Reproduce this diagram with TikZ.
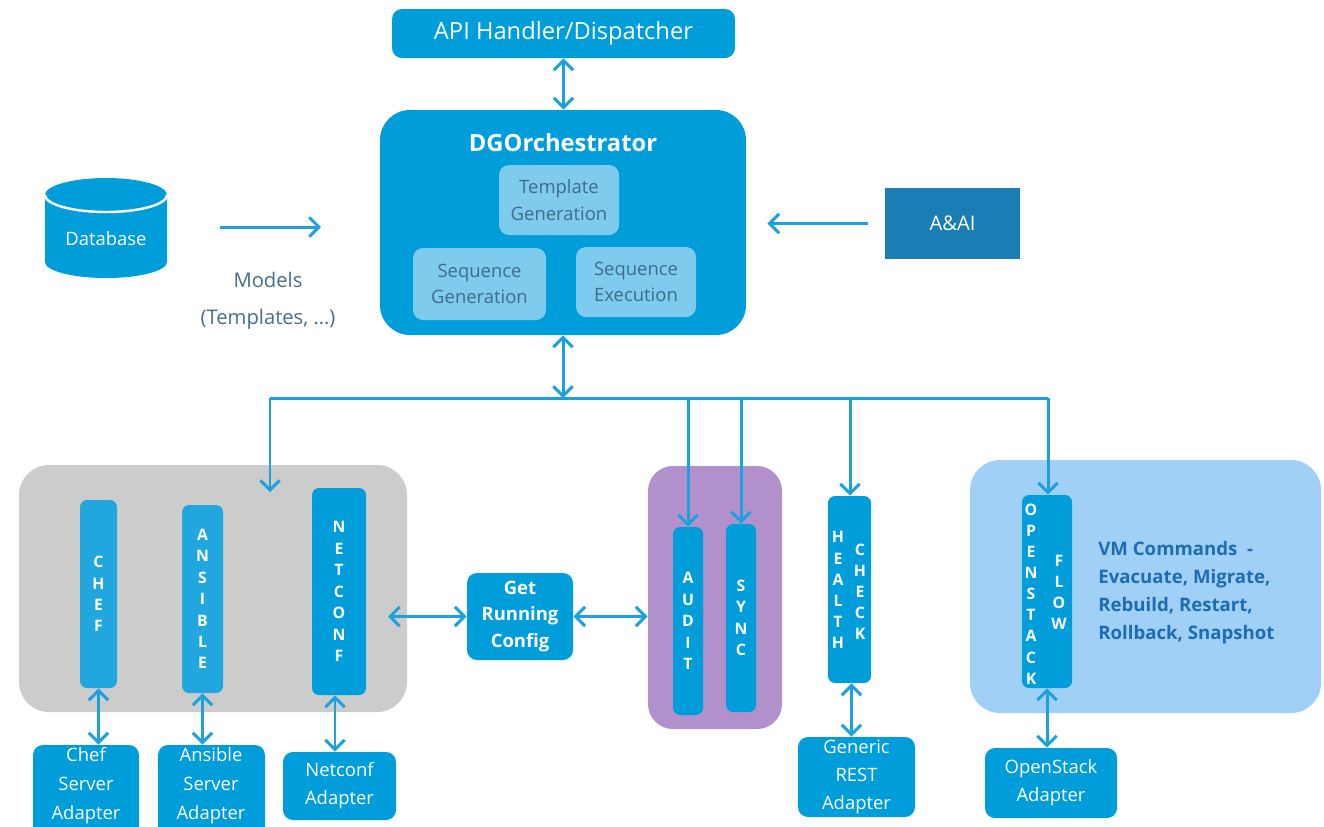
\documentclass[tikz,border=0pt]{standalone}
\usepackage{fontspec}
\setmainfont{Open Sans}
\usetikzlibrary{arrows.meta}
\definecolor{mblue}{RGB}{0,157,219}
\definecolor{barlite}{RGB}{34,166,222}
\definecolor{lightbox}{RGB}{126,203,238}
\definecolor{aaicol}{RGB}{26,126,180}
\definecolor{grayc}{RGB}{204,204,204}
\definecolor{purplec}{RGB}{178,144,204}
\definecolor{skyb}{RGB}{160,208,245}
\definecolor{vmtext}{RGB}{30,108,180}
\definecolor{innertext}{RGB}{62,108,140}
\definecolor{modelst}{RGB}{70,110,140}
\definecolor{arrowc}{RGB}{27,161,221}
\tikzset{
  rect/.style n args={4}{at={({(#1+#3)/2},{(#2+#4)/2})}, minimum width={(#3-#1)*0.02cm}, minimum height={(#4-#2)*0.02cm}},
  bbox/.style={fill=mblue, rounded corners=0.2cm, inner sep=0pt, text=white, align=center},
  ibox/.style={fill=lightbox, rounded corners=0.2cm, inner sep=0pt, text=innertext, align=center,
    font={\fontsize{10.5}{15}\selectfont}},
  adbox/.style={bbox, font={\fontsize{10.5}{16}\selectfont}},
  bar/.style={fill=mblue, rounded corners=0.14cm, inner sep=0pt, text=white, align=center,
    font={\fontsize{9}{12.2}\selectfont\bfseries}},
  vletters/.style={text=white, align=center, inner sep=0pt, font={\fontsize{9}{12}\selectfont\bfseries}},
  cont/.style={rounded corners=0.6cm, inner sep=0pt},
  ln/.style={draw=arrowc, line width=1.7pt},
  arr/.style={ln, -{Straight Barb[length=5.5pt,width=11pt]}},
  dbl/.style={ln, {Straight Barb[length=5.5pt,width=11pt]}-{Straight Barb[length=5.5pt,width=11pt]}}
}
\begin{document}
\begin{tikzpicture}[x=0.02cm,y=-0.02cm]
\useasboundingbox (0,0) rectangle (1324,826);
\clip (0,0) rectangle (1324,826);
% top
\node[bbox, font={\fontsize{13.5}{16}\selectfont}, rect={392}{9}{735}{58}] (api) {API Handler/Dispatcher};
\node[fill=mblue, cont, rect={380}{110}{746}{335}] (dgo) {};
\node[text=white, font={\fontsize{13.5}{16}\selectfont\bfseries}] (dgot) at (563,143) {DGOrchestrator};
\node[ibox, rect={499}{165}{619}{235}] (tg) {Template\\Generation};
\node[ibox, rect={413}{248}{546}{320}] (sg) {Sequence\\Generation};
\node[ibox, rect={576}{247}{696}{317}] (se) {Sequence\\Execution};
% database cylinder
\fill[mblue] (45,195) -- (45,262) arc[start angle=180, end angle=0, x radius=61, y radius=16]
  -- (167,195) arc[start angle=0, end angle=-180, x radius=61, y radius=17] -- cycle;
\draw[white, line width=1.4pt] (45,195) arc[start angle=180, end angle=0, x radius=61, y radius=17];
\node[text=white, font={\fontsize{10.5}{12}\selectfont}] (db) at (106,239) {Database};
\node[text=modelst, align=center, font={\fontsize{11.5}{21}\selectfont}] (models) at (268,301) {Models\\(Templates, \dots)};
\node[fill=aaicol, inner sep=0pt, text=white, font={\fontsize{11.5}{14}\selectfont}, rect={885}{188}{1020}{259}] (aai) {A\&AI};
\coordinate (dbA) at (220,227);
\coordinate (dbB) at (321,227);
\draw[arr] (dbA) -- (dbB);
\draw[arr, shorten <=0.34cm, shorten >=0.42cm] (aai.west) -- (aai.west -| dgo.east);
\draw[dbl] (api.south) -- (api.south |- dgo.north);
% bus
\coordinate (b0) at (563,398);
\coordinate (b1) at (270,398);
\coordinate (bA) at (688,398);
\coordinate (bS) at (741,398);
\coordinate (bH) at (850,398);
\coordinate (bO) at (1048,398);
\draw[dbl] (dgo.south -| b0) -- (b0);
\draw[ln] (b1) -- (bO);
% containers
\node[fill=grayc, cont, rect={19}{465}{407}{712}] (gray) {};
\node[fill=purplec, cont, rounded corners=0.5cm, rect={648}{466}{782}{729}] (purp) {};
\node[fill=skyb, cont, rect={970}{460}{1321}{713}] (sky) {};
% bars
\node[bar, fill=barlite, rect={80}{500}{117}{688}] (chef) {C\\H\\E\\F};
\node[bar, fill=barlite, rect={182}{505}{223}{693}] (ans) {A\\N\\S\\I\\B\\L\\E};
\node[bar, rect={312}{488}{366}{695}] (netc) {N\\E\\T\\C\\O\\N\\F};
\node[bar, rect={673}{527}{703}{715}] (audit) {A\\U\\D\\I\\T};
\node[bar, rect={726}{524}{756}{712}] (sync) {S\\Y\\N\\C};
\node[bar, rect={828}{496}{871}{683}] (hc) {};
\node[vletters] (hct1) at (838,590) {H\\E\\A\\L\\T\\H};
\node[vletters] (hct2) at (860,592) {C\\H\\E\\C\\K};
\node[bar, rect={1022}{495}{1072}{688}] (osf) {};
\node[vletters] (osft1) at (1031,594) {O\\P\\E\\N\\S\\T\\A\\C\\K};
\node[vletters] (osft2) at (1059,592) {F\\L\\O\\W};
\node[text=vmtext, anchor=north west, align=left, inner sep=0pt, font={\fontsize{10.6}{16}\selectfont\bfseries}] (vm) at (1098,541)
  {VM Commands\ \ -\\Evacuate, Migrate,\\Rebuild,\ Restart,\\Rollback,\ Snapshot};
\node[bbox, font={\fontsize{10.5}{15}\selectfont\bfseries}, rect={467}{573}{573}{660}] (grc) {Get\\Running\\Config};
% adapters
\node[adbox, rect={33}{745}{139}{850}] (chefad) {};
\node[text=white, align=center, font={\fontsize{10.5}{16.5}\selectfont}] (chefadt) at (86,786) {Chef\\Server\\Adapter};
\node[adbox, rect={158}{745}{265}{850}] (ansad) {};
\node[text=white, align=center, font={\fontsize{10.5}{16.5}\selectfont}] (ansadt) at (211,786) {Ansible\\Server\\Adapter};
\node[adbox, rect={283}{752}{396}{820}] (netad) {Netconf\\Adapter};
\node[adbox, rect={798}{737}{915}{817}] (restad) {Generic\\REST\\Adapter};
\node[adbox, rect={985}{748}{1117}{818}] (osad) {OpenStack\\Adapter};
% drop arrows
\coordinate (gin) at (270,492);
\draw[arr] (b1) -- (gin);
\draw[arr] (bA) -- (audit.north);
\draw[arr] (bS) -- (sync.north);
\draw[arr] (bH) -- (bH |- hc.north);
\draw[arr] (bO) -- (bO |- osf.north);
% vertical double arrows
\draw[dbl] (chef.south) -- (chef.south |- chefad.north);
\draw[dbl] (ans.south) -- (ans.south |- ansad.north);
\draw[dbl] ([xshift=-0.08cm]netc.south) -- ([xshift=-0.08cm]netc.south |- netad.north);
\draw[dbl] ([xshift=0.04cm]hc.south) -- ([xshift=0.04cm]hc.south |- restad.north);
\draw[dbl] (osf.south) -- (osf.south |- osad.north);
% horizontal double arrows
\draw[dbl] (grc.west -| 388,0) -- (grc.west);
\draw[dbl] (grc.east) -- (grc.east -| purp.west);
\end{tikzpicture}
\end{document}
